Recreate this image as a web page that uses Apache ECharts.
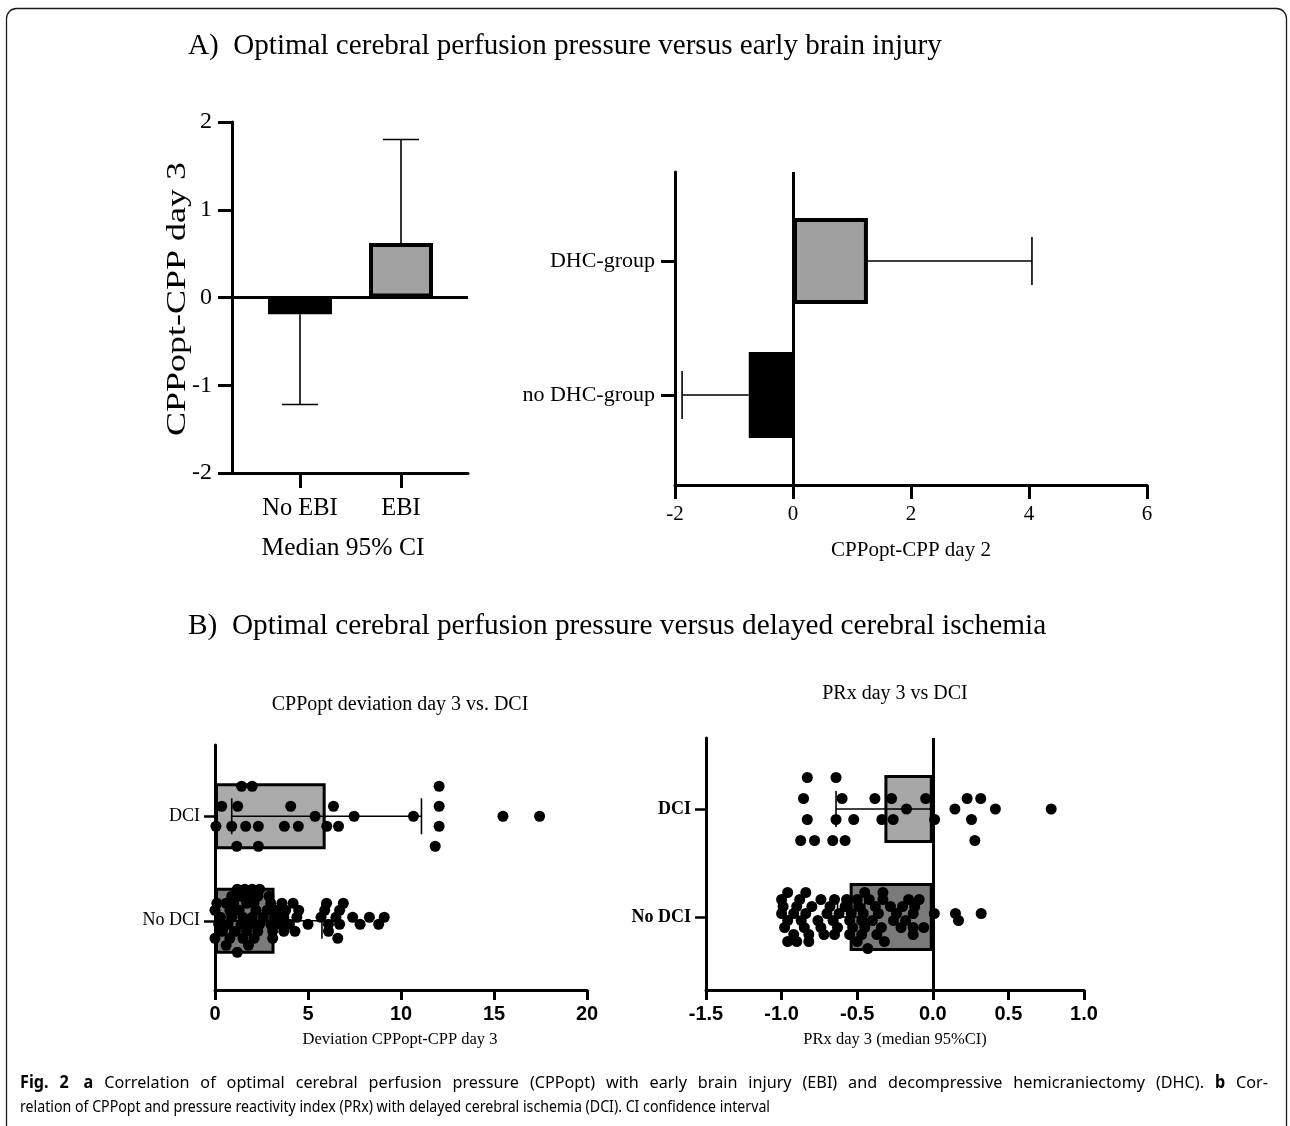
<!DOCTYPE html>
<html><head><meta charset="utf-8">
<script src="https://cdn.jsdelivr.net/npm/echarts@6/dist/echarts.min.js"></script>
<style>html,body{margin:0;padding:0;background:#fff}#c{width:1290px;height:1126px}</style>
</head><body><div id="c"></div>
<script>
// ---------------- data ----------------
const catsA1 = ['No EBI', 'EBI'];
const medA1 = [-0.19, 0.62];
const ciEndA1 = [-1.22, 1.80];

const catsA2 = ['no DHC-group', 'DHC-group'];
const medA2 = [-0.75, 1.27];
const ciEndA2 = [-1.88, 4.05];

const catsB = ['No DCI', 'DCI'];
const medB1 = [3.2, 5.95];
const ciLowB1 = [0.8, 0.9];
const ciHighB1 = [5.75, 11.1];
const medB2 = [-0.55, -0.32];
const ciLowB2 = [-0.63, -0.64];
const ciHighB2 = [-0.45, 0.0];

// dots: [value, swarm row]
const b1DciDots = [
  [1.43,-3],[2.0,-3],[12.05,-3],
  [0.36,-1],[1.22,-1],[4.07,-1],[6.37,-1],[12.05,-1],
  [5.38,0],[7.48,0],[10.67,0],[15.48,0],[17.45,0],
  [0.05,1],[0.9,1],[1.65,1],[2.33,1],[3.73,1],[4.48,1],[6.01,1],[6.64,1],[12.05,1],
  [1.17,3],[2.33,3],[11.84,3]
];
const b1NoDciDots = [
  [1.2,-4.5],[1.6,-4.5],[2.0,-4.5],[2.4,-4.5],
  [0.9,-3.5],[1.4,-3.5],[1.9,-3.5],[2.3,-3.5],[2.9,-3.5],
  [0.1,-2.5],[0.6,-2.5],[1.0,-2.5],[1.7,-2.5],[2.1,-2.5],[3.0,-2.5],[3.6,-2.5],[4.2,-2.5],[6.0,-2.5],[6.9,-2.5],
  [0.0,-1.5],[0.8,-1.5],[1.3,-1.5],[2.2,-1.5],[2.8,-1.5],[3.3,-1.5],[3.8,-1.5],[4.5,-1.5],[5.9,-1.5],[6.7,-1.5],
  [0.3,-0.5],[0.9,-0.5],[1.5,-0.5],[2.0,-0.5],[2.6,-0.5],[3.2,-0.5],[3.7,-0.5],[4.4,-0.5],[5.7,-0.5],[6.5,-0.5],[7.4,-0.5],[8.3,-0.5],[9.1,-0.5],
  [0.2,0.5],[0.7,0.5],[1.4,0.5],[1.9,0.5],[2.4,0.5],[3.0,0.5],[3.5,0.5],[4.0,0.5],[5.0,0.5],[6.1,0.5],[6.7,0.5],[7.8,0.5],[8.8,0.5],
  [0.4,1.5],[1.1,1.5],[1.7,1.5],[2.3,1.5],[3.1,1.5],[3.7,1.5],[4.3,1.5],[6.1,1.5],
  [0.0,2.5],[0.8,2.5],[1.5,2.5],[2.1,2.5],[3.1,2.5],[6.6,2.5],
  [0.6,3.5],[1.8,3.5],
  [1.2,4.5]
];
const b2DciDots = [
  [-0.83,-3],[-0.64,-3],
  [-0.855,-1],[-0.60,-1],[-0.383,-1],[-0.273,-1],[-0.047,-1],[0.227,-1],[0.317,-1],
  [-0.174,0],[0.146,0],[0.414,0],[0.783,0],
  [-0.83,1],[-0.64,1],[-0.523,1],[-0.337,1],[-0.262,1],[0.012,1],[0.256,1],
  [-0.874,3],[-0.782,3],[-0.662,3],[-0.58,3],[0.278,3]
];
const b2NoDciDots = [
  [-0.96,-3.5],[-0.84,-3.5],[-0.45,-3.5],[-0.33,-3.5],
  [-1.0,-2.5],[-0.88,-2.5],[-0.74,-2.5],[-0.65,-2.5],[-0.57,-2.5],[-0.50,-2.5],[-0.42,-2.5],[-0.33,-2.5],[-0.16,-2.5],[-0.09,-2.5],
  [-0.99,-1.5],[-0.90,-1.5],[-0.80,-1.5],[-0.68,-1.5],[-0.58,-1.5],[-0.49,-1.5],[-0.38,-1.5],[-0.28,-1.5],[-0.20,-1.5],[-0.12,-1.5],
  [-1.0,-0.5],[-0.92,-0.5],[-0.84,-0.5],[-0.70,-0.5],[-0.62,-0.5],[-0.54,-0.5],[-0.46,-0.5],[-0.36,-0.5],[-0.24,-0.5],[-0.13,-0.5],[0.01,-0.5],[0.15,-0.5],[0.32,-0.5],
  [-0.96,0.5],[-0.87,0.5],[-0.76,0.5],[-0.66,0.5],[-0.55,0.5],[-0.47,0.5],[-0.40,0.5],[-0.26,0.5],[-0.18,0.5],[0.17,0.5],
  [-0.98,1.5],[-0.85,1.5],[-0.74,1.5],[-0.63,1.5],[-0.53,1.5],[-0.45,1.5],[-0.34,1.5],[-0.21,1.5],[-0.13,1.5],[-0.06,1.5],
  [-0.92,2.5],[-0.82,2.5],[-0.72,2.5],[-0.65,2.5],[-0.55,2.5],[-0.47,2.5],[-0.37,2.5],[-0.13,2.5],
  [-0.96,3.5],[-0.90,3.5],[-0.82,3.5],[-0.50,3.5],[-0.32,3.5],
  [-0.43,4.5]
];

const captionLine1 = 'Fig. 2  a Correlation of optimal cerebral perfusion pressure (CPPopt) with early brain injury (EBI) and decompressive hemicraniectomy (DHC). b Cor-';
const captionLine2 = 'relation of CPPopt and pressure reactivity index (PRx) with delayed cerebral ischemia (DCI). CI confidence interval';
const captionBold = ['Fig.', '2', 'a', 'b'];

// ---------------- style ----------------
const SERIF = '"Liberation Serif","Times New Roman",serif';
const SANS = '"Liberation Sans",Arial,sans-serif';
const CAPF = '"Noto Sans","Open Sans",sans-serif';
const K = '#000';

function errItem(horizontal, capLen, capStart, lw) {
  return function (params, api) {
    const c = api.value(0), v1 = api.value(1), v2 = api.value(2);
    const p1 = horizontal ? api.coord([v1, c]) : api.coord([c, v1]);
    const p2 = horizontal ? api.coord([v2, c]) : api.coord([c, v2]);
    const h = capLen / 2;
    const style = { stroke: K, lineWidth: lw, fill: null };
    const cap = p => horizontal
      ? { type: 'line', shape: { x1: p[0], y1: p[1] - h, x2: p[0], y2: p[1] + h }, style }
      : { type: 'line', shape: { x1: p[0] - h, y1: p[1], x2: p[0] + h, y2: p[1] }, style };
    const kids = [{ type: 'line', shape: { x1: p1[0], y1: p1[1], x2: p2[0], y2: p2[1] }, style }];
    if (capStart) kids.push(cap(p1));
    kids.push(cap(p2));
    return { type: 'group', children: kids };
  };
}

const lineAxis = (extra) => Object.assign({
  axisLine: { show: true, onZero: false, lineStyle: { color: K, width: 3 } },
  axisTick: { show: false }, axisLabel: { show: false }, splitLine: { show: false }
}, extra);
const hidden = (extra) => Object.assign({ show: false, splitLine: { show: false } }, extra);

const grids = [
  { left: 232, top: 122, width: 236, height: 351 },   // 0 A1 outer
  { left: 249.5, top: 122, width: 202, height: 351 }, // 1 A1 inner
  { left: 675, top: 172, width: 472, height: 313 },   // 2 A2 outer
  { left: 675, top: 194, width: 472, height: 268 },   // 3 A2 inner
  { left: 215, top: 745, width: 372, height: 245 },   // 4 B1 outer
  { left: 215, top: 764, width: 372, height: 209 },   // 5 B1 inner
  { left: 706, top: 738, width: 378, height: 252 },   // 6 B2 outer
  { left: 706, top: 755, width: 378, height: 216 }    // 7 B2 inner
];

const catAxisLine = { show: false, onZero: false };

const xAxes = [
  lineAxis({ type: 'value', gridIndex: 0, min: 0, max: 1 }),
  { type: 'category', gridIndex: 1, data: catsA1, axisLine: catAxisLine,
    axisTick: { show: true, alignWithLabel: true, length: 15, lineStyle: { color: K, width: 3 } },
    axisLabel: { fontFamily: SERIF, fontSize: 24.5, color: K, margin: 23 } },
  { type: 'value', gridIndex: 2, min: -2, max: 6, interval: 2,
    axisLine: { show: true, onZero: false, lineStyle: { color: K, width: 3 } },
    axisTick: { show: true, length: 14, lineStyle: { color: K, width: 3 } },
    axisLabel: { fontFamily: SERIF, fontSize: 21, color: K, margin: 19 }, splitLine: { show: false } },
  hidden({ type: 'value', gridIndex: 3, min: -2, max: 6 }),
  { type: 'value', gridIndex: 4, min: 0, max: 20, interval: 5,
    axisLine: { show: true, onZero: false, lineStyle: { color: K, width: 3 } },
    axisTick: { show: true, length: 10, lineStyle: { color: K, width: 3 } },
    axisLabel: { fontFamily: SANS, fontWeight: 'bold', fontSize: 20, color: K, margin: 14 }, splitLine: { show: false } },
  hidden({ type: 'value', gridIndex: 5, min: 0, max: 20 }),
  { type: 'value', gridIndex: 6, min: -1.5, max: 1.0, interval: 0.5,
    axisLine: { show: true, onZero: false, lineStyle: { color: K, width: 3 } },
    axisTick: { show: true, length: 10, lineStyle: { color: K, width: 3 } },
    axisLabel: { fontFamily: SANS, fontWeight: 'bold', fontSize: 20, color: K, margin: 14,
      formatter: v => v.toFixed(1) }, splitLine: { show: false } },
  hidden({ type: 'value', gridIndex: 7, min: -1.5, max: 1.0 })
];

const yAxes = [
  { type: 'value', gridIndex: 0, min: -2, max: 2, interval: 1,
    axisLine: { show: true, onZero: false, lineStyle: { color: K, width: 3 } },
    axisTick: { show: true, length: 14, lineStyle: { color: K, width: 3 } },
    axisLabel: { fontFamily: SERIF, fontSize: 24, color: K, margin: 20 }, splitLine: { show: false } },
  hidden({ type: 'value', gridIndex: 1, min: -2, max: 2 }),
  lineAxis({ type: 'value', gridIndex: 2, min: 0, max: 1 }),
  { type: 'category', gridIndex: 3, data: catsA2, axisLine: catAxisLine,
    axisTick: { show: true, alignWithLabel: true, length: 14, lineStyle: { color: K, width: 3 } },
    axisLabel: { fontFamily: SERIF, fontSize: 22, color: K, margin: 20 } },
  lineAxis({ type: 'value', gridIndex: 4, min: 0, max: 1 }),
  { type: 'category', gridIndex: 5, data: catsB, axisLine: catAxisLine,
    axisTick: { show: true, alignWithLabel: true, length: 11, lineStyle: { color: K, width: 2.5 } },
    axisLabel: { fontFamily: SERIF, fontSize: 18, color: K, margin: 15 } },
  lineAxis({ type: 'value', gridIndex: 6, min: 0, max: 1 }),
  { type: 'category', gridIndex: 7, data: catsB, axisLine: catAxisLine,
    axisTick: { show: true, alignWithLabel: true, length: 11, lineStyle: { color: K, width: 2.5 } },
    axisLabel: { fontFamily: SERIF, fontWeight: 'bold', fontSize: 18, color: K, margin: 15 } }
];

const zeroLine = (xi, yi, mk) => ({
  type: 'line', xAxisIndex: xi, yAxisIndex: yi, data: [], silent: true,
  markLine: { silent: true, symbol: 'none', label: { show: false },
    lineStyle: { color: K, width: 3, type: 'solid' }, data: [mk] }
});

const bars = (xi, yi, vals, colors, w, bw) => ({
  type: 'bar', xAxisIndex: xi, yAxisIndex: yi, barWidth: w, z: 2,
  data: vals.map((v, i) => ({ value: v, itemStyle: { color: colors[i], borderColor: K, borderWidth: bw } }))
});

const dots = (xi, yi, arr, cat, step) => ({
  type: 'scatter', xAxisIndex: xi, yAxisIndex: yi, symbolSize: 11, z: 5,
  itemStyle: { color: K, opacity: 1 },
  data: arr.map(d => ({ value: [d[0], cat], symbolOffset: [0, d[1] * step] }))
});

const series = [
  // A1
  zeroLine(0, 0, { yAxis: 0 }),
  bars(1, 1, medA1, ['#000000', '#a2a2a2'], 64, 4),
  { type: 'custom', xAxisIndex: 1, yAxisIndex: 1, z: 3, renderItem: errItem(false, 36, false, 1.6),
    encode: { x: 0, y: [1, 2] }, data: medA1.map((m, i) => [i, m, ciEndA1[i]]) },
  // A2
  zeroLine(2, 2, { xAxis: 0 }),
  bars(3, 3, medA2, ['#000000', '#a0a0a0'], 86, 4),
  { type: 'custom', xAxisIndex: 3, yAxisIndex: 3, z: 3, renderItem: errItem(true, 48, false, 1.6),
    encode: { y: 0, x: [1, 2] }, data: medA2.map((m, i) => [i, m, ciEndA2[i]]) },
  // B1
  bars(5, 5, medB1, ['#7b7b7b', '#aaaaaa'], 66, 3),
  { type: 'custom', xAxisIndex: 5, yAxisIndex: 5, z: 4, renderItem: errItem(true, 36, true, 1.6),
    encode: { y: 0, x: [1, 2] }, data: medB1.map((m, i) => [i, ciLowB1[i], ciHighB1[i]]) },
  dots(5, 5, b1DciDots, 1, 10),
  dots(5, 5, b1NoDciDots, 0, 7),
  // B2
  zeroLine(6, 6, { xAxis: 0 }),
  bars(7, 7, medB2, ['#7a7a7a', '#a7a7a7'], 68, 3),
  { type: 'custom', xAxisIndex: 7, yAxisIndex: 7, z: 4, renderItem: errItem(true, 36, true, 1.6),
    encode: { y: 0, x: [1, 2] }, data: medB2.map((m, i) => [i, ciLowB2[i], ciHighB2[i]]) },
  dots(7, 7, b2DciDots, 1, 10.5),
  dots(7, 7, b2NoDciDots, 0, 7)
];

// ---------------- texts ----------------
const mctx = document.createElement('canvas').getContext('2d');
const measure = (t, font) => { mctx.font = font; return mctx.measureText(t).width; };

const txt = (text, x, y, size, align, extra) => Object.assign({
  type: 'text', z: 10, silent: true, x, y,
  style: { text, x: 0, y: 0, font: size + 'px ' + SERIF, fill: K,
    textAlign: align || 'center', textVerticalAlign: 'middle' }
}, extra || {});

const graphic = [
  { type: 'rect', z: 0, silent: true, shape: { x: 6.5, y: 8.5, width: 1280, height: 1300, r: 10 },
    style: { fill: null, stroke: '#1a1a1a', lineWidth: 1.3 } },
  txt('A)  Optimal cerebral perfusion pressure versus early brain injury', 188, 46, 29.1, 'left'),
  txt('B)  Optimal cerebral perfusion pressure versus delayed cerebral ischemia', 188, 626, 29.3, 'left'),
  txt('Median 95% CI', 343, 548, 25.5),
  txt('CPPopt-CPP day 2', 911, 550, 21),
  txt('CPPopt deviation day 3 vs. DCI', 400, 705, 20),
  txt('PRx day 3 vs DCI', 895, 694, 20),
  txt('Deviation CPPopt-CPP day 3', 400, 1040, 16.5),
  txt('PRx day 3 (median 95%CI)', 895, 1040, 16.5)
];

// rotated y-axis name of panel A (stretched to the reference length)
{
  const f = '27px ' + SERIF, t = 'CPPopt-CPP day 3';
  const s = 274 / measure(t, f);
  graphic.push(txt(t, 178, 299, 27, 'center', { rotation: Math.PI / 2, scaleX: s }));
}

// caption: first line justified to the full width, second line natural
{
  const size = 17;
  const fN = size + 'px ' + CAPF, fB = 'bold ' + size + 'px ' + CAPF;
  const s2 = 750 / measure(captionLine2, fN);
  graphic.push({ type: 'text', z: 10, silent: true, x: 20, y: 1107, scaleX: s2,
    style: { text: captionLine2, x: 0, y: 0, font: fN, fill: K, textVerticalAlign: 'middle' } });
  const words = captionLine1.split(/\s+/);
  const fonts = words.map((w, i) => captionBold.includes(w) && (i < 3 || w === 'b') ? fB : fN);
  const spaceW = measure(' ', fN);
  const natW = words.map((w, i) => measure(w, fonts[i]));
  const natTotal = natW.reduce((a, b) => a + b, 0) + spaceW * (words.length - 1);
  const sFull = 1248 / natTotal;
  const s1 = (s2 + sFull) / 2;
  const widths = natW.map(w => w * s1);
  const total = widths.reduce((a, b) => a + b, 0);
  const gap = (1248 - 4 - total) / (words.length - 1);
  let x = 20;
  words.forEach((w, i) => {
    graphic.push({ type: 'text', z: 10, silent: true, x, y: 1083, scaleX: s1,
      style: { text: w, x: 0, y: 0, font: fonts[i], fill: K, textVerticalAlign: 'middle' } });
    x += widths[i] + gap + (i === 1 ? 4 : 0);
  });
}

const chart = echarts.init(document.getElementById('c'), null, { renderer: 'canvas' });
chart.setOption({
  animation: false, backgroundColor: '#fff',
  grid: grids, xAxis: xAxes, yAxis: yAxes, series, graphic
});
</script></body></html>
